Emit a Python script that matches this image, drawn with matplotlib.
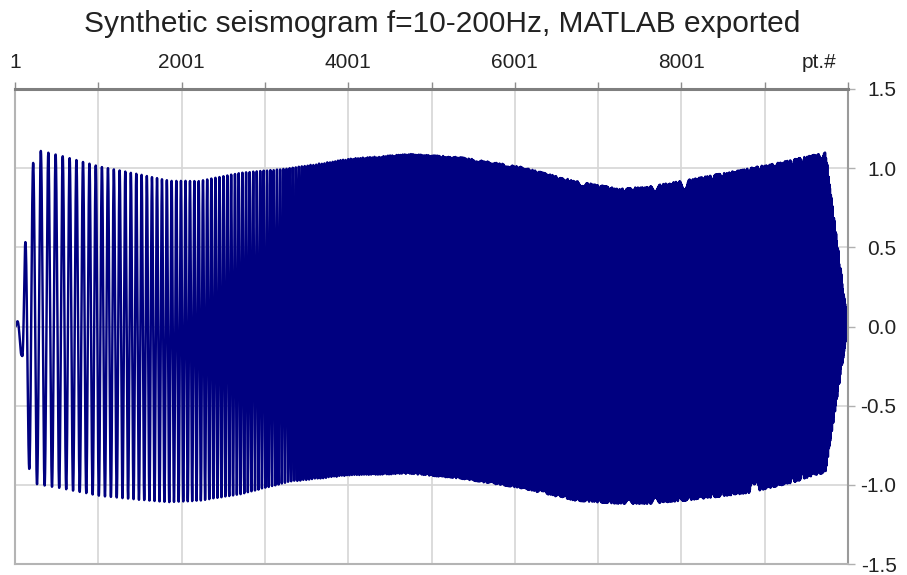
import numpy as np
import matplotlib
matplotlib.use('Agg')
import matplotlib.pyplot as plt

plt.rcParams['font.family'] = ['Liberation Sans', 'DejaVu Sans']
plt.rcParams['axes.unicode_minus'] = False

title = 'Synthetic seismogram f=10-200Hz, MATLAB exported'

# sweep from the title (logarithmic sweep)
f_start = 10.0   # Hz
f_end = 200.0    # Hz
fs = 1000.0      # samples per second
n_points = 10001

# envelope of the trace (point number, top, bottom)
env_pt = [1, 85, 121, 205, 301, 541, 1021, 1501, 1861, 2221, 2701, 3301,
          4021, 4741, 5341, 6061, 6721, 7261, 7621, 8221, 8821, 9301, 9733, 10001]
env_top = [0.0, 0.10, 0.51, 1.02, 1.11, 1.08, 1.01, 0.96, 0.92, 0.92, 0.97, 1.00,
           1.06, 1.09, 1.07, 1.01, 0.92, 0.87, 0.885, 0.94, 1.00, 1.05, 1.10, 0.0]
env_bot = [0.0, -0.20, -0.76, -0.99, -1.00, -1.02, -1.07, -1.095, -1.11, -1.10, -1.06, -0.98,
           -0.94, -0.93, -0.96, -1.02, -1.10, -1.12, -1.12, -1.09, -1.05, -0.99, -0.92, 0.0]

xtick_major = [1, 2001, 4001, 6001, 8001]
xtick_labels = ['1', '2001', '4001', '6001', '8001']
xtick_all = list(range(1, 10002, 1000))
ytick_pos = [-1.5, -1.0, -0.5, 0.0, 0.5, 1.0, 1.5]
ytick_labels = ['-1.5', '-1.0', '-0.5', '0.0', '0.5', '1.0', '1.5']

# trace
pt = np.arange(1, n_points + 1)
t = (pt - 1) / fs
T = t[-1]
k = f_end / f_start
phase = 2 * np.pi * f_start * T / np.log(k) * (k ** (t / T) - 1)
top = np.interp(pt, env_pt, env_top)
bot = np.interp(pt, env_pt, env_bot)
trace = (top + bot) / 2 + (top - bot) / 2 * np.sin(phase)

fig = plt.figure(figsize=(9.07, 5.75), dpi=100)
ax = fig.add_axes([15 / 907, 11 / 575, 833 / 907, 475 / 575])

ax.plot(pt, trace, color='#000080', lw=1.75)

ax.set_xlim(1, 10001)
ax.set_ylim(-1.5, 1.5)

ax.xaxis.tick_top()
ax.set_xticks(xtick_all)
ax.set_xticklabels([xtick_labels[xtick_major.index(v)] if v in xtick_major else '' for v in xtick_all])
ax.yaxis.tick_right()
ax.set_yticks(ytick_pos)
ax.set_yticklabels(ytick_labels)

ax.tick_params(axis='x', length=5, width=1, color='#8c8c8c', labelsize=15, pad=7, labelcolor='#222222')
ax.tick_params(axis='y', length=5, width=1, color='#b0b0b0', labelsize=15, pad=30, labelcolor='#222222')
for lab in ax.get_yticklabels():
    lab.set_ha('right')

ax.annotate('pt.#', xy=(10001, 1.5), xycoords='data', xytext=(-8, 12),
            textcoords='offset points', ha='right', va='bottom', fontsize=15, color='#222222')

ax.grid(True, color='#d6d6d6', lw=1.2)
ax.set_axisbelow(True)

ax.spines['top'].set_color('#7f7f7f')
ax.spines['top'].set_linewidth(2.2)
ax.spines['right'].set_color('#9a9a9a')
ax.spines['right'].set_linewidth(1.5)
ax.spines['left'].set_color('#b4b4b4')
ax.spines['left'].set_linewidth(1.5)
ax.spines['bottom'].set_color('#b4b4b4')
ax.spines['bottom'].set_linewidth(1.5)

fig.text(442 / 907, 1 - 32 / 575, title, ha='center', va='baseline', fontsize=21.5, color='#222222')

fig.savefig('out.png', dpi=100)
